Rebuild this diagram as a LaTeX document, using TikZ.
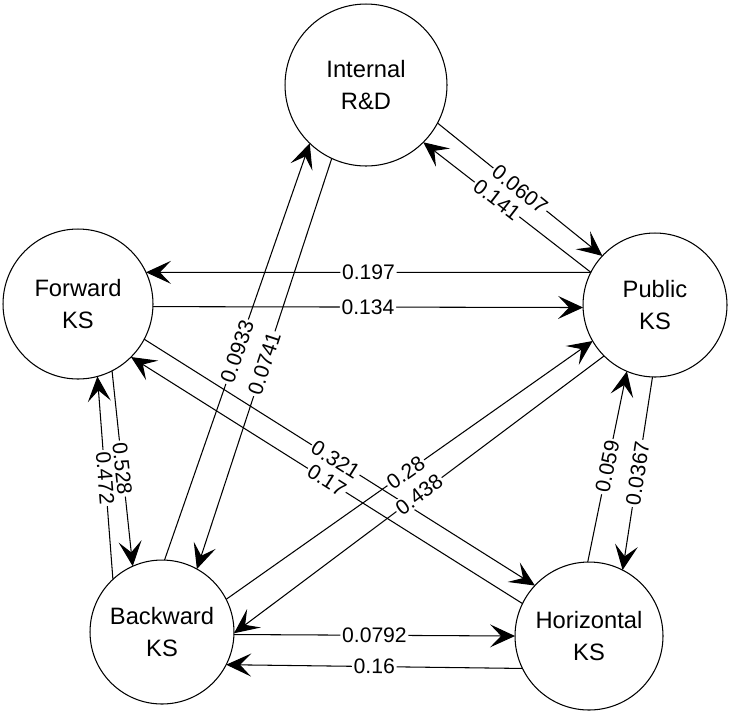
\documentclass[tikz,border=0pt]{standalone}
\usepackage{fontspec}
\setmainfont{Liberation Sans}
\usetikzlibrary{arrows.meta}

\begin{document}
\begin{tikzpicture}[x=0.02cm, y=-0.02cm,
    ks/.style={circle, draw, line width=0.6pt, inner sep=0pt, outer sep=0pt,
        align=center, font=\fontsize{13.5}{18}\selectfont},
    flow/.style={line width=0.6pt, -{Stealth[length=0.5cm, width=0.46cm, inset=0.22cm]}},
    val/.style={fill=white, inner sep=1pt, sloped, font=\fontsize{12}{14}\selectfont}]
    \useasboundingbox (0,0) rectangle (729,711);

    % Knowledge sources
    \node[ks, minimum size=3.24cm] (rd)  at (366,85)  {Internal\\R\&D};
    \node[ks, minimum size=3.0cm]  (fwd) at (78,304)  {Forward\\KS};
    \node[ks, minimum size=2.88cm] (pub) at (655,305) {Public\\KS};
    \node[ks, minimum size=2.88cm] (bwd) at (162,632) {Backward\\KS};
    \node[ks, minimum size=2.96cm] (hor) at (589,636) {Horizontal\\KS};

    % Spillover flows (from/angle, to/angle, label position, value)
    \foreach \a/\aa/\b/\bb/\p/\v in {
        rd/-28/pub/137/0.5/0.0607, pub/153/rd/-45/0.56/0.141,
        pub/153/fwd/25/0.5/0.197, fwd/-2/pub/182/0.5/0.134,
        fwd/-63/bwd/114/0.5/0.528, bwd/133/fwd/-75/0.5/0.472,
        bwd/88/rd/-134/0.5/0.0933, rd/-115/bwd/61/0.5/0.0741,
        fwd/-28/hor/137/0.49/0.321, hor/154/fwd/-45/0.5/0.17,
        bwd/27/pub/210/0.49/0.28, pub/225/bwd/-1/0.5/0.438,
        hor/91/pub/-113/0.5/0.059, pub/-92/hor/63/0.5/0.0367,
        bwd/-2/hor/180/0.5/0.0792, hor/206/bwd/-27/0.5/0.16} {
        \draw[flow] (\a.\aa) -- node[val, pos=\p] {\v} (\b.\bb);
    }
\end{tikzpicture}
\end{document}
